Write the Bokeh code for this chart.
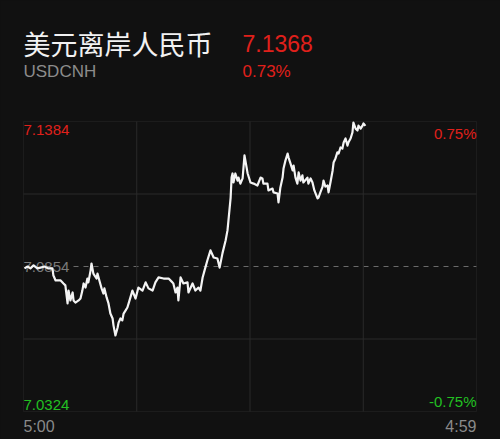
from bokeh.plotting import figure
from bokeh.models import Range1d, Label, BoxAnnotation
from bokeh.embed import file_html
from bokeh.resources import INLINE

# ---- data ----
title_cn = "美元离岸人民币"
symbol = "USDCNH"
last_price_text = "7.1368"
change_text = "0.73%"
y_top_label, y_mid_label, y_bot_label = "7.1384", "7.0854", "7.0324"
pct_top_label, pct_bot_label = "0.75%", "-0.75%"
time_labels = ["5:00", "4:59"]
session_minutes = 1439  # 5:00 -> 4:59 next day
y_min, y_mid, y_max = 7.0324, 7.0854, 7.1384

minutes = [3, 13, 22, 32, 44, 54, 67, 79, 92, 95, 102, 118, 127, 133, 140, 143, 149, 156, 159, 165,
           175, 181, 187, 191, 197, 203, 206, 213, 216, 222, 226, 232, 235, 241, 248, 254, 257, 264, 270, 276,
           283, 286, 292, 299, 302, 308, 314, 318, 324, 330, 334, 346, 356, 365, 378, 388, 397, 410, 419, 429,
           445, 461, 473, 476, 483, 489, 492, 499, 508, 521, 524, 537, 546, 556, 562, 569, 575, 584, 594, 604,
           616, 623, 632, 642, 648, 651, 658, 661, 664, 667, 673, 680, 683, 689, 696, 702, 712, 721, 731, 743,
           753, 759, 762, 775, 778, 791, 794, 807, 810, 816, 823, 826, 832, 839, 842, 848, 855, 858, 864, 870,
           874, 880, 886, 889, 902, 905, 912, 918, 924, 934, 937, 943, 950, 953, 959, 966, 969, 975, 982, 985,
           991, 997, 1001, 1007, 1013, 1017, 1023, 1029, 1032, 1039, 1045, 1048, 1055, 1061, 1064, 1071, 1077, 1080, 1086]
price = [7.0847, 7.0854, 7.0847, 7.0858, 7.0847, 7.0850, 7.0854, 7.0847, 7.0847, 7.0821, 7.0803, 7.0803, 7.0792, 7.0785, 7.0719, 7.0766, 7.0730, 7.0759, 7.0730, 7.0722,
         7.0730, 7.0737, 7.0766, 7.0792, 7.0777, 7.0810, 7.0796, 7.0839, 7.0865, 7.0828, 7.0821, 7.0810, 7.0828, 7.0803, 7.0774, 7.0755, 7.0774, 7.0741, 7.0719, 7.0682,
         7.0664, 7.0638, 7.0602, 7.0631, 7.0649, 7.0664, 7.0657, 7.0682, 7.0693, 7.0704, 7.0719, 7.0766, 7.0737, 7.0777, 7.0766, 7.0796, 7.0774, 7.0766, 7.0796, 7.0814,
         7.0810, 7.0810, 7.0796, 7.0792, 7.0759, 7.0777, 7.0730, 7.0814, 7.0792, 7.0796, 7.0759, 7.0792, 7.0766, 7.0777, 7.0766, 7.0814, 7.0839, 7.0876, 7.0913, 7.0887,
         7.0883, 7.0850, 7.0902, 7.0949, 7.0986, 7.1022, 7.1106, 7.1179, 7.1194, 7.1161, 7.1194, 7.1168, 7.1179, 7.1157, 7.1176, 7.1260, 7.1194, 7.1161, 7.1157, 7.1150,
         7.1179, 7.1176, 7.1157, 7.1157, 7.1132, 7.1139, 7.1125, 7.1121, 7.1088, 7.1143, 7.1179, 7.1212, 7.1241, 7.1267, 7.1252, 7.1231, 7.1205, 7.1223, 7.1179, 7.1157,
         7.1198, 7.1168, 7.1187, 7.1161, 7.1179, 7.1157, 7.1176, 7.1161, 7.1132, 7.1103, 7.1106, 7.1125, 7.1146, 7.1168, 7.1146, 7.1150, 7.1125, 7.1161, 7.1205, 7.1234,
         7.1249, 7.1271, 7.1267, 7.1289, 7.1285, 7.1307, 7.1322, 7.1296, 7.1307, 7.1322, 7.1344, 7.1380, 7.1358, 7.1351, 7.1369, 7.1358, 7.1369, 7.1377, 7.1368]

# ---- layout / styling ----
W, H = 500, 439
BOX_L, BOX_R, BOX_T, BOX_B = 23, 476, 121, 411   # chart box in canvas pixels
BG = "#111111"
GRID = "#2a2a2a"
RED = "#e0201b"
GREEN = "#22c022"
GRAY = "#8a8a8a"
NUM_FONT = "Liberation Sans"
CJK_FONT = "Noto Sans CJK SC"

# the frame covers the whole canvas; ranges are extended so that the chart box lands on BOX_*
xs = session_minutes / (BOX_R - BOX_L)
ys = (y_max - y_min) / (BOX_B - BOX_T)
x_range = Range1d(-BOX_L * xs, session_minutes + (W - BOX_R) * xs)
y_range = Range1d(y_min - (H - BOX_B) * ys, y_max + BOX_T * ys)

p = figure(width=W, height=H, output_backend="svg", toolbar_location=None,
           x_range=x_range, y_range=y_range,
           x_axis_location=None, y_axis_location=None,
           min_border=0, background_fill_color=BG, border_fill_color=BG,
           outline_line_color=None)
p.grid.visible = False

# grid lines at quarters of the chart box
gx = [session_minutes * i / 4 for i in (1, 2, 3)]
p.segment(x0=gx, x1=gx, y0=[y_min] * 3, y1=[y_max] * 3, line_color=GRID, line_width=1)
gy = [y_min + (y_max - y_min) * i / 4 for i in (1, 3)]
p.segment(x0=[0, 0], x1=[session_minutes] * 2, y0=gy, y1=gy, line_color=GRID, line_width=1)
dash = p.segment(x0=[0], x1=[session_minutes], y0=[y_mid], y1=[y_mid], line_color="#6a6a6a",
                 line_width=1.2, line_dash="5 5")
dash.level = "underlay"

p.add_layout(BoxAnnotation(left=0, right=session_minutes, bottom=y_min, top=y_max,
                           fill_alpha=0, line_color="#383838", line_width=1, level="underlay"))

# mid price label (background hides the dash behind it, price line drawn on top)
p.add_layout(Label(x=0, y=y_mid, text=y_mid_label, text_color="#7a7a7a",
                   text_font=NUM_FONT, text_font_size="15px", text_baseline="middle",
                   background_fill_color=BG, level="underlay"))

p.line(minutes, price, line_color="#f4f4f4", line_width=2.2, line_join="round")

# corner labels
p.add_layout(Label(x=0, y=y_max, y_offset=-3, text=y_top_label, text_color=RED, text_font=NUM_FONT,
                   text_font_size="15px", text_baseline="top", text_align="left"))
p.add_layout(Label(x=session_minutes, y=y_max, y_offset=-3, text=pct_top_label, text_color=RED,
                   text_font=NUM_FONT, text_font_size="15px", text_baseline="top", text_align="right"))
p.add_layout(Label(x=0, y=y_min, y_offset=2, text=y_bot_label, text_color=GREEN, text_font=NUM_FONT,
                   text_font_size="15px", text_baseline="bottom", text_align="left"))
p.add_layout(Label(x=session_minutes, y=y_min, y_offset=2, text=pct_bot_label, text_color=GREEN,
                   text_font=NUM_FONT, text_font_size="15px", text_baseline="bottom", text_align="right"))

# time labels
p.add_layout(Label(x=0, y=y_min, y_offset=-6, text=time_labels[0], text_color=GRAY, text_font=NUM_FONT,
                   text_font_size="16px", text_baseline="top", text_align="left"))
p.add_layout(Label(x=session_minutes, y=y_min, y_offset=-6, text=time_labels[1], text_color=GRAY,
                   text_font=NUM_FONT, text_font_size="16px", text_baseline="top", text_align="right"))

# header
p.add_layout(Label(x=0, y=y_max, y_offset=78, text=title_cn, text_color="#f2f2f2", text_font=CJK_FONT,
                   text_font_size="27px", text_baseline="alphabetic"))
p.add_layout(Label(x=0, y=y_max, x_offset=219, y_offset=78, text=last_price_text, text_color=RED,
                   text_font=NUM_FONT, text_font_size="23px", text_baseline="alphabetic"))
p.add_layout(Label(x=0, y=y_max, y_offset=50, text=symbol, text_color="#8c8c8c", text_font=NUM_FONT,
                   text_font_size="17px", text_baseline="alphabetic"))
p.add_layout(Label(x=0, y=y_max, x_offset=219, y_offset=50, text=change_text, text_color=RED,
                   text_font=NUM_FONT, text_font_size="17px", text_baseline="alphabetic"))

html = file_html(p, INLINE)
html = html.replace("<head>", "<head><style>body{background:#111111;}</style>", 1)
open("out.html", "w").write(html)
